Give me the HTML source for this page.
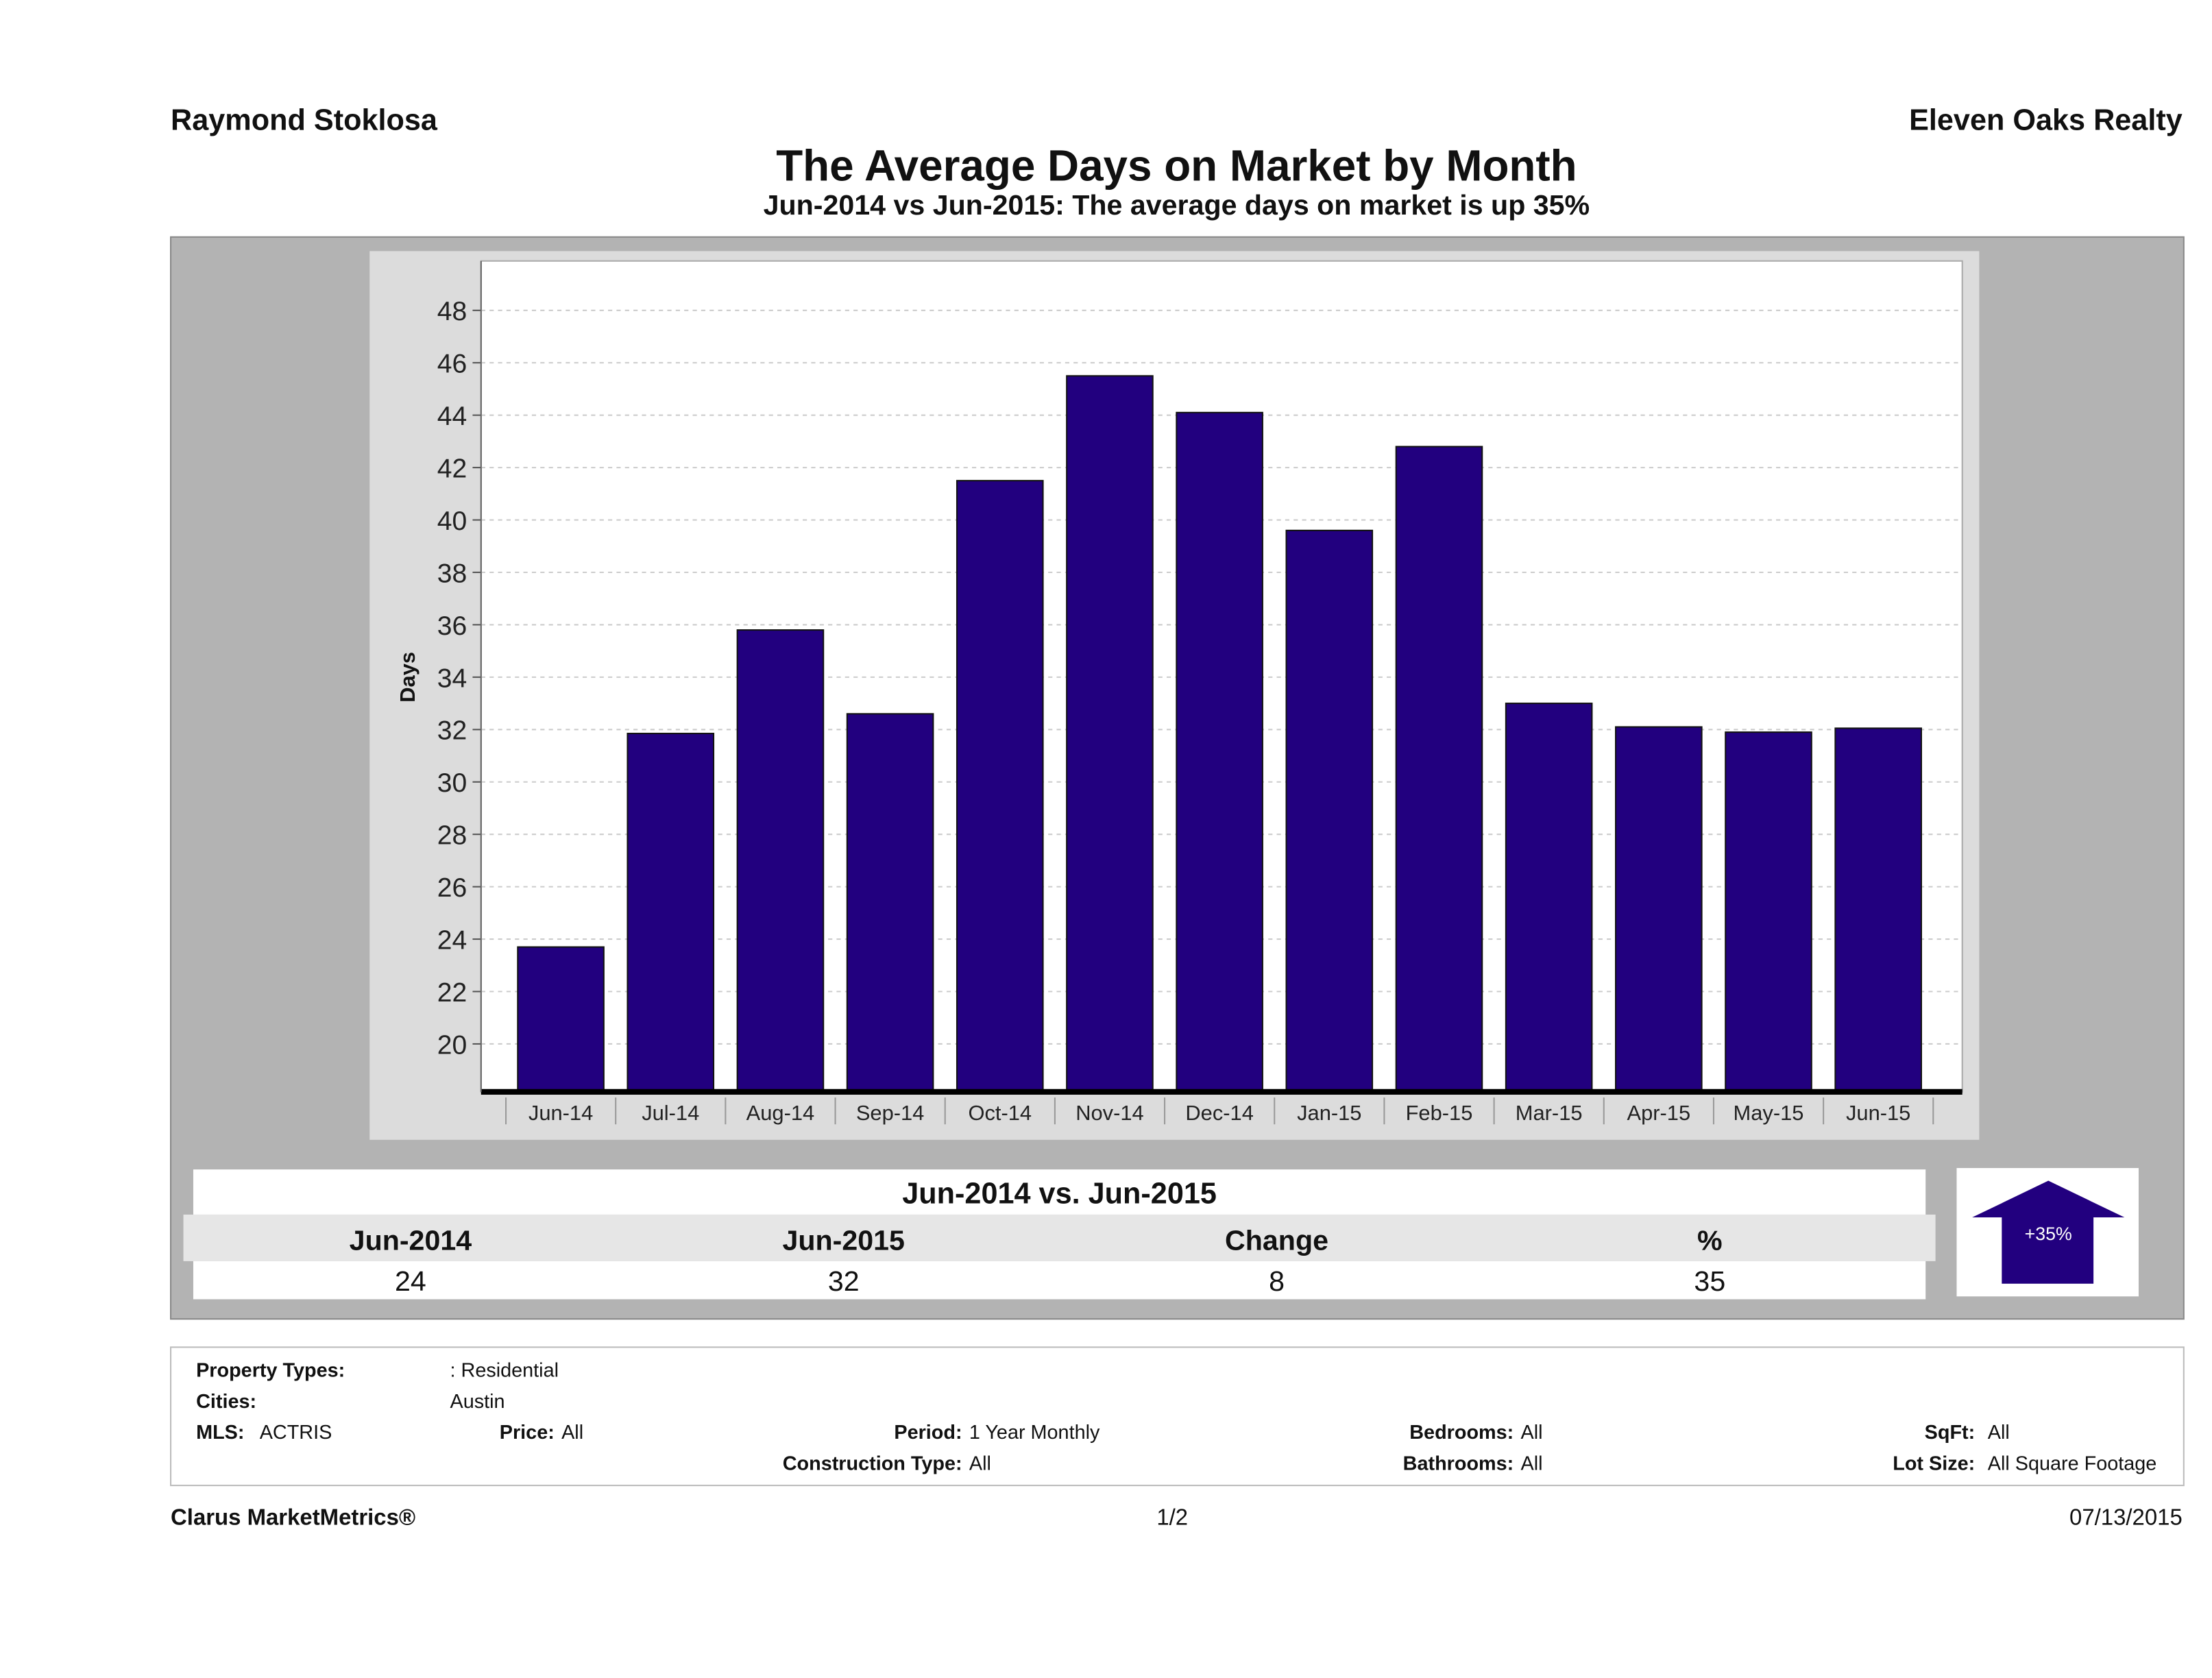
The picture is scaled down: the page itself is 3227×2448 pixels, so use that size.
<!DOCTYPE html>
<html><head><meta charset="utf-8"><style>
html,body{margin:0;padding:0;background:#fff;}
svg{display:block;font-family:"Liberation Sans",sans-serif;}
</style></head><body>
<svg id="root" width="3227" height="2448" viewBox="0 0 1568 1189.5">
<rect x="0" y="0" width="1568" height="1190" fill="#fff"/>
<text x="121" y="92" font-size="21" font-weight="bold" fill="#111">Raymond Stoklosa</text>
<text x="1547" y="92" font-size="21" font-weight="bold" fill="#111" text-anchor="end">Eleven Oaks Realty</text>
<text x="834" y="128" font-size="31" font-weight="bold" fill="#111" text-anchor="middle">The Average Days on Market by Month</text>
<text x="834" y="152" font-size="20" font-weight="bold" fill="#111" text-anchor="middle">Jun-2014 vs Jun-2015: The average days on market is up 35%</text>

<rect x="121" y="168" width="1427" height="767" fill="#b3b3b3" stroke="#888"/>
<rect x="262" y="178" width="1141" height="630" fill="#dcdcdc"/>
<rect x="341" y="185" width="1050" height="589" fill="#fff" stroke="#aaa"/>
<g id="grid"></g>
<g id="bars"></g>
<g id="axes"></g>
<text transform="translate(294,480) rotate(-90)" font-size="15" font-weight="bold" text-anchor="middle" fill="#111">Days</text>

<rect x="137" y="829" width="1228" height="32" fill="#fff"/>
<rect x="130" y="861" width="1242" height="33" fill="#e6e6e6"/>
<rect x="137" y="894" width="1228" height="27" fill="#fff"/>
<text x="751" y="853" font-size="21" font-weight="bold" text-anchor="middle" fill="#111">Jun-2014 vs. Jun-2015</text>
<g font-size="20" font-weight="bold" fill="#111" text-anchor="middle">
<text x="291" y="886">Jun-2014</text>
<text x="598" y="886">Jun-2015</text>
<text x="905" y="886">Change</text>
<text x="1212" y="886">%</text>
</g>
<g font-size="20" fill="#111" text-anchor="middle">
<text x="291" y="915">24</text>
<text x="598" y="915">32</text>
<text x="905" y="915">8</text>
<text x="1212" y="915">35</text>
</g>
<rect x="1387" y="828" width="129" height="91" fill="#fff"/>
<polygon points="1452,837 1506,863 1484,863 1484,910 1419,910 1419,863 1398,863" fill="#22007f"/>
<text x="1452" y="879" font-size="13" fill="#fff" text-anchor="middle">+35%</text>

<rect x="121" y="955" width="1427" height="98" fill="#fff" stroke="#bbb"/>
<g font-size="14" fill="#111">
<text x="139" y="976" font-weight="bold">Property Types:</text><text x="319" y="976">: Residential</text>
<text x="139" y="998" font-weight="bold">Cities:</text><text x="319" y="998">Austin</text>
<text x="139" y="1020" font-weight="bold">MLS:</text><text x="184" y="1020">ACTRIS</text>
<text x="393" y="1020" font-weight="bold" text-anchor="end">Price:</text><text x="398" y="1020">All</text>
<text x="682" y="1020" font-weight="bold" text-anchor="end">Period:</text><text x="687" y="1020">1 Year Monthly</text>
<text x="682" y="1042" font-weight="bold" text-anchor="end">Construction Type:</text><text x="687" y="1042">All</text>
<text x="1073" y="1020" font-weight="bold" text-anchor="end">Bedrooms:</text><text x="1078" y="1020">All</text>
<text x="1073" y="1042" font-weight="bold" text-anchor="end">Bathrooms:</text><text x="1078" y="1042">All</text>
<text x="1400" y="1020" font-weight="bold" text-anchor="end">SqFt:</text><text x="1409" y="1020">All</text>
<text x="1400" y="1042" font-weight="bold" text-anchor="end">Lot Size:</text><text x="1409" y="1042">All Square Footage</text>
</g>
<text x="121" y="1081" font-size="16" font-weight="bold" fill="#111">Clarus MarketMetrics®</text>
<text x="831" y="1081" font-size="16" fill="#111" text-anchor="middle">1/2</text>
<text x="1547" y="1081" font-size="16" fill="#111" text-anchor="end">07/13/2015</text>
</svg>
<script>
const categories = ["Jun-14","Jul-14","Aug-14","Sep-14","Oct-14","Nov-14","Dec-14","Jan-15","Feb-15","Mar-15","Apr-15","May-15","Jun-15"];
const daysValues = [23.7,31.85,35.8,32.6,41.5,45.5,44.1,39.6,42.8,33.0,32.1,31.9,32.05];
const yTicks = [20,22,24,26,28,30,32,34,36,38,40,42,44,46,48];
const NS="http://www.w3.org/2000/svg";
const yMin=18.17, y0=774, pxPer=520/28;
function yScale(v){return y0-(v-yMin)*pxPer;}
function xCenter(i){return 397.5+i*77.83;}
function mk(tag,attrs,parent){const e=document.createElementNS(NS,tag);for(const k in attrs)e.setAttribute(k,attrs[k]);parent.appendChild(e);return e;}
const grid=document.getElementById('grid'),bars=document.getElementById('bars'),axes=document.getElementById('axes');
yTicks.forEach(t=>{
  const y=yScale(t);
  const l=mk('line',{x1:341,x2:1391,y1:y,y2:y,stroke:'#ccc','stroke-dasharray':'3,3'},grid);
  
  
  const tk=mk('line',{x1:335,x2:341,y1:y,y2:y,stroke:'#555'},axes);
  
  
  const tx=mk('text',{x:331,y:y+7,'font-size':19,'text-anchor':'end',fill:'#222'},axes);
  tx.textContent=t;
  
  
});
categories.forEach((c,i)=>{
  const cx=xCenter(i),top=yScale(daysValues[i]);
  const r=mk('rect',{x:cx-30.5,y:top,width:61,height:y0-top,fill:'#22007f',stroke:'#111','stroke-width':1},bars);
  
  
  const tx=mk('text',{x:cx,y:794,'font-size':15,'text-anchor':'middle',fill:'#222'},axes);
  tx.textContent=c;
  
  
});
for(let i=0;i<=categories.length;i++){
  const x=xCenter(i)-38.9;
  const tk=mk('line',{x1:x,x2:x,y1:778,y2:797,stroke:'#999'},axes);
  
  
}
const ax=mk('line',{x1:341,x2:1391,y1:774,y2:774,stroke:'#000','stroke-width':4},axes);


const ay=mk('line',{x1:341,x2:341,y1:185,y2:774,stroke:'#666'},axes);


</script>
</body></html>
